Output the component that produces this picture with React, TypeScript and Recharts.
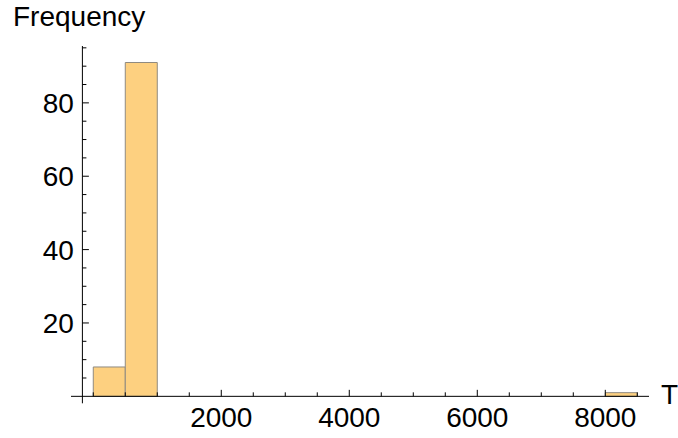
import { Bar, ComposedChart, ReferenceLine, XAxis, YAxis } from "recharts";

// histogram bins (width 500) and their counts
const binStarts = [0, 500, 8000];
const binCounts = [8, 91, 1];
const BIN_WIDTH = 500;

const xTickValues = [
  0, 500, 1000, 1500, 2000, 2500, 3000, 3500, 4000, 4500, 5000, 5500, 6000,
  6500, 7000, 7500, 8000, 8500,
];
const xTickLabels = [2000, 4000, 6000, 8000];

const yTickValues = [
  5, 10, 15, 20, 25, 30, 35, 40, 45, 50, 55, 60, 65, 70, 75, 80, 85, 90, 95,
];
const yTickLabels = [20, 40, 60, 80];

const data = binStarts.map((start, i) => ({
  mid: start + BIN_WIDTH / 2,
  count: binCounts[i],
}));

const W = 678;
const H = 438;
const X_MIN = -348;
const X_MAX = 8683;
const Y_MIN = -1.9;
const Y_MAX = 95.5;
const X_ORIGIN = -170;
const PLOT_LEFT = 71;
const PLOT_RIGHT = 649;
const PLOT_TOP = 46;
const PLOT_BOTTOM = 403.3;
const PLOT_W = PLOT_RIGHT - PLOT_LEFT;
const PLOT_H = PLOT_BOTTOM - PLOT_TOP;
const PX_X = PLOT_W / (X_MAX - X_MIN);
const PX_Y = PLOT_H / (Y_MAX - Y_MIN);

const FONT = "'Liberation Sans', Arial, sans-serif";
const FILL = "#FDD080";

function XTick(props: any) {
  const { x, y, payload } = props;
  const v = payload.value;
  const axisY = y - (0 - Y_MIN) * PX_Y;
  const major = xTickLabels.includes(v);
  return (
    <g>
      <line x1={x} x2={x} y1={axisY} y2={axisY - (major ? 6.5 : 4)} stroke="#000" />
      {major && (
        <text x={x} y={axisY + 31} textAnchor="middle" fontSize={28} fontFamily={FONT} fill="#000">
          {v}
        </text>
      )}
    </g>
  );
}

function YTick(props: any) {
  const { x, y, payload } = props;
  const v = payload.value;
  const axisX = x + (X_ORIGIN - X_MIN) * PX_X;
  const major = yTickLabels.includes(v);
  return (
    <g>
      <line x1={axisX} x2={axisX + (major ? 6.5 : 4)} y1={y} y2={y} stroke="#000" />
      {major && (
        <text x={axisX - 8.5} y={y + 10} textAnchor="end" fontSize={28} fontFamily={FONT} fill="#000">
          {v}
        </text>
      )}
    </g>
  );
}

export default function App() {
  return (
    <div style={{ position: "absolute", left: 0, top: 0, width: W, height: H, background: "#fff" }}>
      <ComposedChart
        width={W}
        height={H}
        data={data}
        barCategoryGap="0%"
        barGap={0}
        margin={{ top: PLOT_TOP, right: W - PLOT_RIGHT, left: 0, bottom: 0 }}
      >
        <XAxis
          dataKey="mid"
          type="number"
          domain={[X_MIN, X_MAX]}
          ticks={xTickValues}
          interval={0}
          allowDataOverflow
          height={H - PLOT_BOTTOM}
          axisLine={false}
          tickLine={false}
          tickSize={0}
          tickMargin={0}
          tick={<XTick />}
        />
        <YAxis
          type="number"
          domain={[Y_MIN, Y_MAX]}
          ticks={yTickValues}
          interval={0}
          allowDataOverflow
          width={PLOT_LEFT}
          axisLine={false}
          tickLine={false}
          tickSize={0}
          tickMargin={0}
          tick={<YTick />}
        />
        <Bar
          dataKey="count"
          fill={FILL}
          stroke="#8f8a80"
          strokeWidth={1}
          isAnimationActive={false}
        />
        <ReferenceLine y={0} stroke="#000" strokeWidth={1} />
        <ReferenceLine x={X_ORIGIN} stroke="#000" strokeWidth={1} />
      </ComposedChart>
      <svg
        width={W}
        height={H}
        style={{ position: "absolute", left: 0, top: 0, pointerEvents: "none" }}
      >
        <text x={13} y={26} fontSize={28} fontFamily={FONT} fill="#000">
          Frequency
        </text>
        <text x={661} y={404} fontSize={28} fontFamily={FONT} fill="#000">
          T
        </text>
      </svg>
    </div>
  );
}
